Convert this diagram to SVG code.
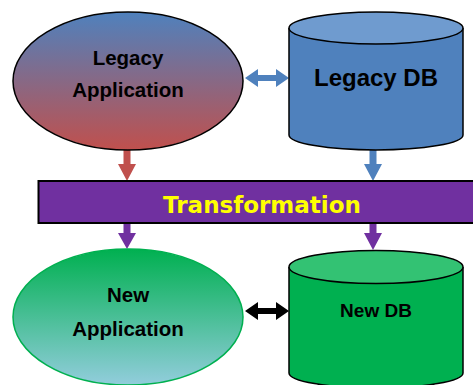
<svg xmlns="http://www.w3.org/2000/svg" width="473" height="385" viewBox="0 0 473 385">
  <defs>
    <linearGradient id="gLegacy" x1="0" y1="0" x2="0" y2="1">
      <stop offset="0" stop-color="#4F81BD"/>
      <stop offset="1" stop-color="#C0504D"/>
    </linearGradient>
    <linearGradient id="gNew" x1="0" y1="0" x2="0" y2="1">
      <stop offset="0" stop-color="#00B050"/>
      <stop offset="1" stop-color="#92CDDC"/>
    </linearGradient>
  </defs>
  <style>
    .lbl { font-family: "Liberation Sans", Arial, sans-serif; font-weight: bold; fill: #000; text-anchor: middle; }
  </style>

  <!-- connectors: block arrows -->
  <g id="connectors">
    <!-- legacy app -> transformation -->
    <polygon fill="#C0504D" points="123.5,150 130.5,150 130.5,164 136,164 127,181 118,164 123.5,164"/>
    <!-- legacy db -> transformation -->
    <polygon fill="#4F81BD" points="369.5,150 376.5,150 376.5,164 382,164 373,181 364,164 369.5,164"/>
    <!-- transformation -> new app -->
    <polygon fill="#7030A0" points="123.5,223 130.5,223 130.5,233 136,233 127,249 118,233 123.5,233"/>
    <!-- transformation -> new db -->
    <polygon fill="#7030A0" points="369.5,223 376.5,223 376.5,233 382,233 373,250 364,233 369.5,233"/>
    <!-- legacy app <-> legacy db -->
    <polygon fill="#4F81BD" points="245,78 258,69 258,75 276,75 276,69 289,78 276,87 276,81 258,81 258,87"/>
    <!-- new app <-> new db -->
    <polygon fill="#000" points="245,311 258,302 258,308 276,308 276,302 289,311 276,320 276,314 258,314 258,320"/>
  </g>

  <g id="legacy-app">
    <ellipse cx="128" cy="81" rx="115" ry="69" fill="url(#gLegacy)" stroke="#000" stroke-width="1.5"/>
    <text class="lbl" x="128" y="65" font-size="20.5">Legacy</text>
    <text class="lbl" x="128" y="97" font-size="20.5">Application</text>
  </g>

  <g id="legacy-db">
    <path d="M289,28 L289,135 A87,15 0 0 0 463,135 L463,28" fill="#4F81BD" stroke="#000" stroke-width="1.5"/>
    <ellipse cx="376" cy="28" rx="87" ry="16" fill="#6F9BCF" stroke="#000" stroke-width="1.5"/>
    <text class="lbl" x="376" y="86" font-size="24">Legacy DB</text>
  </g>

  <g id="transformation">
    <rect x="38.5" y="181" width="440" height="42" fill="#7030A0" stroke="#000" stroke-width="2"/>
    <text x="262" y="213" font-family="'DejaVu Sans', Verdana, sans-serif" font-weight="bold" font-size="23" fill="#FFFF00" text-anchor="middle">Transformation</text>
  </g>

  <g id="new-app">
    <ellipse cx="128" cy="317" rx="115" ry="68" fill="url(#gNew)" stroke="#00B050" stroke-width="1.5"/>
    <text class="lbl" x="128" y="302" font-size="20.5">New</text>
    <text class="lbl" x="128" y="336" font-size="20.5">Application</text>
  </g>

  <g id="new-db">
    <path d="M289,267 L289,373 A87,15 0 0 0 463,373 L463,267" fill="#00B050" stroke="#000" stroke-width="1.5"/>
    <ellipse cx="376" cy="267" rx="87" ry="16.5" fill="#33C273" stroke="#000" stroke-width="1.5"/>
    <text class="lbl" x="376" y="317" font-size="19">New DB</text>
  </g>
</svg>
